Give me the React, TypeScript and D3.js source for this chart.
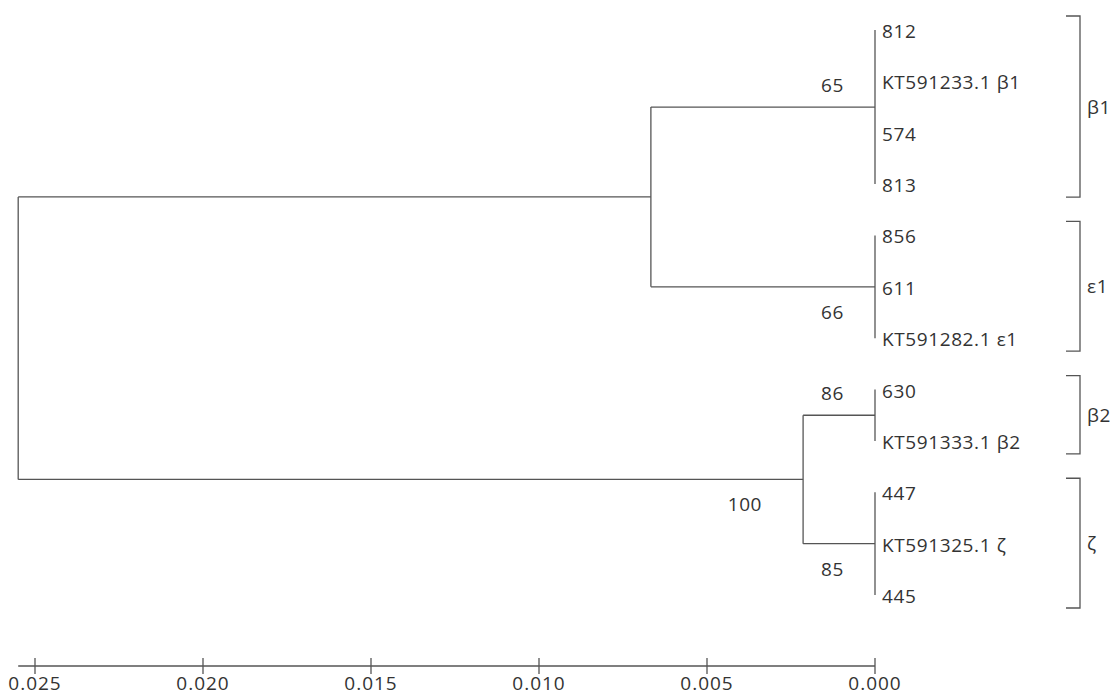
import React from "react";
import * as d3 from "d3";

// ---- data ----
const cladeLabels = ["β1", "ε1", "β2", "ζ"];
const cladeLeaves = [
  ["812", "KT591233.1 β1", "574", "813"],
  ["856", "611", "KT591282.1 ε1"],
  ["630", "KT591333.1 β2"],
  ["447", "KT591325.1 ζ", "445"],
];
const cladeHeights = [0, 0, 0, 0];
const cladeSupport = [65, 66, 86, 85];
const cladeSupportSide = ["above", "below", "above", "below"];
const groupClades = [[0, 1], [2, 3]];
const groupHeights = [0.00667, 0.00214];
const groupSupport: (number | null)[] = [null, 100];
const rootHeight = 0.0255;
const axisTicks = [0.025, 0.02, 0.015, 0.01, 0.005, 0.0];

interface TNode {
  name: string;
  height: number;
  support?: number | null;
  side?: string;
  clade?: number;
  children?: TNode[];
}

const treeData: TNode = {
  name: "root",
  height: rootHeight,
  children: groupClades.map((cl, g) => ({
    name: "group" + g,
    height: groupHeights[g],
    support: groupSupport[g],
    side: "below",
    children: cl.map((c) => ({
      name: cladeLabels[c],
      height: cladeHeights[c],
      support: cladeSupport[c],
      side: cladeSupportSide[c],
      clade: c,
      children: cladeLeaves[c].map((l) => ({ name: l, height: 0 })),
    })),
  })),
};

const W = 1114;
const H = 697;
const FONT = "'Open Sans', sans-serif";
const STROKE = "#555";
const TEXT = "#333";

export default function App() {
  const x = d3.scaleLinear().domain([0.025, 0]).range([35, 875]);
  const root = d3.hierarchy<TNode>(treeData);
  const leaves = root.leaves();
  const y = d3.scaleLinear().domain([0, leaves.length - 1]).range([30, 595]);
  const pos = new Map<any, { x: number; y: number }>();
  leaves.forEach((l, i) => pos.set(l, { x: x(l.data.height), y: y(i) }));
  root.eachAfter((n) => {
    if (n.children) {
      const ys = n.children.map((c) => pos.get(c)!.y);
      pos.set(n, { x: x(n.data.height), y: d3.mean(ys)! });
    }
  });

  const lines: JSX.Element[] = [];
  const labels: JSX.Element[] = [];
  let k = 0;
  root.each((n) => {
    const p = pos.get(n)!;
    if (n.parent) {
      const pp = pos.get(n.parent)!;
      if (pp.x !== p.x)
        lines.push(<line key={k++} x1={pp.x} x2={p.x} y1={p.y} y2={p.y} />);
    }
    if (n.children) {
      const ys = n.children.map((c) => pos.get(c)!.y);
      lines.push(
        <line key={k++} x1={p.x} x2={p.x} y1={d3.min(ys)!} y2={d3.max(ys)!} />
      );
    }
    if (n.data.support != null) {
      const above = n.data.side === "above";
      const off = n.data.clade === undefined ? 41 : 31;
      labels.push(
        <text
          key={"s" + k++}
          x={p.x - off}
          y={above ? p.y - 22 : p.y + 25}
          textAnchor="end"
          dominantBaseline="central"
        >
          {n.data.support}
        </text>
      );
    }
  });

  const brackets = root
    .descendants()
    .filter((n) => n.data.clade !== undefined)
    .map((n) => {
      const ls = n.leaves();
      const y0 = pos.get(ls[0])!.y - 14;
      const y1 = pos.get(ls[ls.length - 1])!.y + 13;
      return { label: n.data.name, y0, y1 };
    });

  const axisY = 666;
  const fmt = d3.format(".3f");

  return (
    <svg
      width={W}
      height={H}
      style={{ position: "absolute", left: 0, top: 0, background: "#fff" }}
      fontFamily={FONT}
    >
      <g stroke={STROKE} strokeWidth={1.3} fill="none">
        {lines}
      </g>
      <g fill={TEXT} fontSize={19} letterSpacing={0.6}>
        {labels}
        {leaves.map((l) => {
          const p = pos.get(l)!;
          return (
            <text key={l.data.name} x={p.x + 7} y={p.y + 1} dominantBaseline="central">
              {l.data.name}
            </text>
          );
        })}
      </g>
      <g>
        {brackets.map((b) => (
          <g key={b.label}>
            <path
              d={`M1066,${b.y0}H1080V${b.y1}H1066`}
              stroke={STROKE}
              strokeWidth={1.3}
              fill="none"
            />
            <text
              x={1087}
              y={(b.y0 + b.y1) / 2}
              dominantBaseline="central"
              fill={TEXT}
              fontSize={19}
              letterSpacing={0.6}
            >
              {b.label}
            </text>
          </g>
        ))}
      </g>
      <g>
        <line
          x1={x(rootHeight)}
          x2={x(0)}
          y1={axisY}
          y2={axisY}
          stroke={STROKE}
          strokeWidth={1.3}
        />
        {axisTicks.map((t) => (
          <g key={t} transform={`translate(${x(t)},0)`}>
            <line y1={axisY - 8} y2={axisY + 8} stroke={STROKE} strokeWidth={1.3} />
            <text
              y={690}
              textAnchor="middle"
              fill={TEXT}
              fontSize={19}
              letterSpacing={1}
            >
              {fmt(t)}
            </text>
          </g>
        ))}
      </g>
    </svg>
  );
}
